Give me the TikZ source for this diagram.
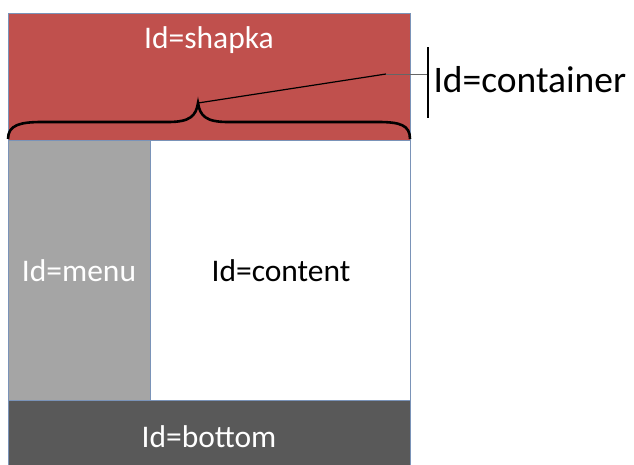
\documentclass[tikz,border=0pt]{standalone}
\usepackage{fontspec}
\setmainfont{Carlito}
\usetikzlibrary{positioning}

\definecolor{shapkared}{HTML}{C0504D}
\definecolor{menugray}{HTML}{A5A5A5}
\definecolor{bottomgray}{HTML}{595959}
\definecolor{edgeblue}{HTML}{7A93B8}

\begin{document}
\begin{tikzpicture}[x=1pt, y=-1pt, font=\fontsize{31.5}{38}\selectfont,
  blk/.style={draw=edgeblue, line width=1pt, inner sep=0pt, anchor=north west}]

\useasboundingbox (0,0) rectangle (634,464);

\node[blk, fill=shapkared, minimum width=402pt, minimum height=127pt] (shapka) at (8,13) {};
\node[blk, fill=menugray, minimum width=142pt, minimum height=260pt] (menu) at (8,140) {};
\node[blk, fill=white, minimum width=260pt, minimum height=260pt] (content) at (150,140) {};
\node[blk, fill=bottomgray, minimum width=402pt, minimum height=70pt] (bottom) at (8,400) {};

\node[white] (shapkatxt) at (209,40) {Id=shapka};
\node[white] (menutxt) at (79,271) {Id=menu};
\node (contenttxt) at (281,271) {Id=content};
\node[white] (bottomtxt) at (209,437) {Id=bottom};

\draw[line width=2.6pt] (8,139) .. controls (8,125) and (20,122) .. (42,122) -- (168,122)
  .. controls (190,122) and (196,116) .. (198,103)
  .. controls (200,116) and (206,122) .. (228,122) -- (378,122)
  .. controls (400,122) and (410,125) .. (410,139);

\coordinate (tip) at (198,103);
\coordinate (kink) at (386,74);
\coordinate (bartop) at (428,47);
\coordinate (barbot) at (428,118);
\coordinate (barmid) at (428,74);

\draw[line width=1.2pt] (tip) -- (kink);
\draw[line width=1pt, black!60] (kink) -- (barmid);
\draw[line width=1.3pt] (bartop) -- (barbot);

\node[anchor=west, font=\fontsize{37.5}{45}\selectfont] (container) at (430,80) {Id=container};

\end{tikzpicture}
\end{document}
